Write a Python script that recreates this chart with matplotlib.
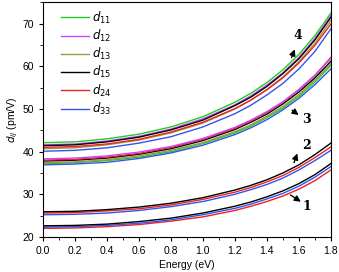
import matplotlib
matplotlib.use('Agg')
import matplotlib.pyplot as plt
from matplotlib.ticker import MultipleLocator

plt.rcParams['font.family'] = ['Liberation Sans', 'DejaVu Sans']

energy = [0.0, 0.2, 0.4, 0.6, 0.8, 1.0, 1.2, 1.3, 1.4, 1.5, 1.6, 1.7, 1.8]

# group 4 (top bundle)
g4_d11 = [42.1, 42.3, 43.0, 44.1, 45.8, 48.2, 51.6, 53.7, 56.2, 59.2, 62.8, 67.2, 72.5]
g4_d12 = [41.6, 41.8, 42.5, 43.6, 45.3, 47.7, 51.0, 53.1, 55.6, 58.5, 62.1, 66.5, 71.9]
g4_d15 = [41.4, 41.6, 42.3, 43.4, 45.1, 47.4, 50.8, 52.8, 55.3, 58.3, 61.8, 66.2, 71.5]
g4_d13 = [40.7, 40.9, 41.6, 42.7, 44.4, 46.7, 50.0, 52.1, 54.6, 57.5, 61.1, 65.4, 70.7]
g4_d24 = [41.0, 41.2, 41.8, 42.9, 44.6, 46.9, 50.1, 52.1, 54.5, 57.3, 60.8, 64.9, 69.9]
g4_d33 = [40.1, 40.3, 40.9, 42.0, 43.5, 45.8, 48.9, 50.9, 53.3, 56.0, 59.4, 63.5, 68.8]

# group 3
g3_d12 = [38.3, 38.5, 39.0, 39.9, 41.2, 43.1, 45.7, 47.4, 49.4, 51.7, 54.6, 57.9, 61.9]
g3_d24 = [38.0, 38.2, 38.7, 39.6, 41.0, 42.9, 45.5, 47.2, 49.2, 51.6, 54.5, 57.9, 62.1]
g3_d15 = [37.8, 38.0, 38.5, 39.4, 40.7, 42.6, 45.2, 46.9, 48.8, 51.2, 54.0, 57.3, 61.2]
g3_d13 = [37.4, 37.6, 38.1, 39.0, 40.3, 42.1, 44.7, 46.3, 48.3, 50.6, 53.4, 56.8, 60.6]
g3_d11 = [37.2, 37.4, 37.9, 38.7, 40.0, 41.9, 44.4, 46.0, 48.0, 50.2, 53.0, 56.3, 60.2]
g3_d33 = [36.9, 37.1, 37.5, 38.4, 39.7, 41.5, 44.0, 45.6, 47.5, 49.8, 52.5, 55.7, 59.4]

# group 2
g2_d15 = [25.9, 26.0, 26.4, 27.0, 27.9, 29.2, 31.0, 32.1, 33.4, 35.0, 36.9, 39.3, 42.0]
g2_d24 = [25.6, 25.7, 26.1, 26.6, 27.5, 28.8, 30.5, 31.6, 32.9, 34.4, 36.3, 38.6, 41.1]
g2_d33 = [25.2, 25.3, 25.6, 26.2, 27.1, 28.3, 30.0, 31.1, 32.3, 33.8, 35.7, 37.9, 40.3]

# group 1
g1_d15 = [22.6, 22.7, 23.0, 23.6, 24.4, 25.6, 27.2, 28.2, 29.4, 30.8, 32.5, 34.6, 37.2]
g1_d33 = [22.3, 22.4, 22.7, 23.2, 24.0, 25.2, 26.7, 27.7, 28.9, 30.2, 31.9, 34.0, 36.5]
g1_d24 = [22.0, 22.1, 22.4, 22.9, 23.7, 24.7, 26.2, 27.2, 28.3, 29.6, 31.2, 33.2, 35.7]

colors = {'d11': '#22cc22', 'd12': '#cc44ff', 'd13': '#999944',
          'd15': '#000000', 'd24': '#ee2222', 'd33': '#3355ee'}

fig = plt.figure(figsize=(3.39, 2.72), dpi=100)
ax = fig.add_axes([0.127, 0.129, 0.849, 0.862])

lw = 1.0
ax.plot(energy, g4_d11, color=colors['d11'], lw=lw, label='$d_{11}$')
ax.plot(energy, g4_d12, color=colors['d12'], lw=lw, label='$d_{12}$')
ax.plot(energy, g4_d13, color=colors['d13'], lw=lw, label='$d_{13}$')
ax.plot(energy, g4_d15, color=colors['d15'], lw=lw, label='$d_{15}$')
ax.plot(energy, g4_d24, color=colors['d24'], lw=lw, label='$d_{24}$')
ax.plot(energy, g4_d33, color=colors['d33'], lw=lw, label='$d_{33}$')

ax.plot(energy, g3_d11, color=colors['d11'], lw=lw)
ax.plot(energy, g3_d13, color=colors['d13'], lw=lw)
ax.plot(energy, g3_d15, color=colors['d15'], lw=lw)
ax.plot(energy, g3_d33, color=colors['d33'], lw=lw)
ax.plot(energy, g3_d24, color=colors['d24'], lw=lw)
ax.plot(energy, g3_d12, color=colors['d12'], lw=lw)

ax.plot(energy, g2_d33, color=colors['d33'], lw=lw)
ax.plot(energy, g2_d24, color=colors['d24'], lw=lw)
ax.plot(energy, g2_d15, color=colors['d15'], lw=lw)

ax.plot(energy, g1_d24, color=colors['d24'], lw=lw)
ax.plot(energy, g1_d33, color=colors['d33'], lw=lw)
ax.plot(energy, g1_d15, color=colors['d15'], lw=lw)

ax.set_xlim(0, 1.8)
ax.set_ylim(20, 75)
ax.xaxis.set_major_locator(MultipleLocator(0.2))
ax.xaxis.set_minor_locator(MultipleLocator(0.1))
ax.yaxis.set_major_locator(MultipleLocator(10))
ax.yaxis.set_minor_locator(MultipleLocator(5))
ax.tick_params(which='both', direction='out', labelsize=7.5, top=False, right=False)
ax.tick_params(which='major', length=3)
ax.tick_params(which='minor', length=2)
ax.xaxis.set_major_formatter(plt.FuncFormatter(lambda v, p: f'{v:.1f}'))
for s in ax.spines.values():
    s.set_linewidth(0.8)

ax.set_xlabel('Energy (eV)', fontsize=7.5, labelpad=3)
ax.set_ylabel('$d_{ij}$ (pm/V)', fontsize=7.5, labelpad=2)

leg = ax.legend(loc='upper left', bbox_to_anchor=(0.035, 1.005), frameon=False,
                fontsize=8.5, handlelength=2.3, labelspacing=0.18,
                borderaxespad=0.3, handletextpad=0.3)

# group labels with arrows
arr = dict(arrowstyle='-|>', color='black', lw=1.0, mutation_scale=9)
ax.annotate('', xy=(1.581, 64.6), xytext=(1.548, 61.5), arrowprops=arr)
ax.text(1.594, 67.2, '4', fontsize=9, fontweight='bold', family='DejaVu Serif',
        ha='center', va='center')
ax.annotate('', xy=(1.6125, 48.2), xytext=(1.544, 50.1), arrowprops=arr)
ax.text(1.648, 47.6, '3', fontsize=9, fontweight='bold', family='DejaVu Serif',
        ha='center', va='center')
ax.annotate('', xy=(1.596, 40.2), xytext=(1.564, 36.8), arrowprops=arr)
ax.text(1.648, 41.4, '2', fontsize=9, fontweight='bold', family='DejaVu Serif',
        ha='center', va='center')
ax.annotate('', xy=(1.627, 27.9), xytext=(1.533, 30.2), arrowprops=arr)
ax.text(1.652, 27.2, '1', fontsize=9, fontweight='bold', family='DejaVu Serif',
        ha='center', va='center')

fig.savefig('out.png', dpi=100)
